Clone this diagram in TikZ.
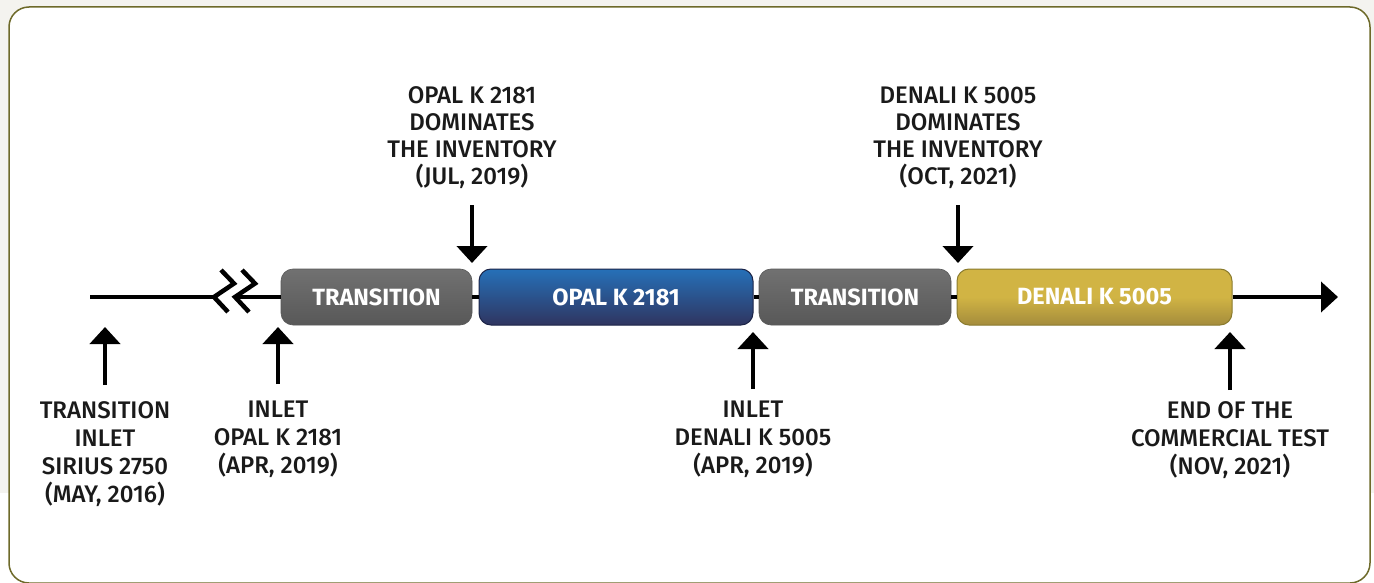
\documentclass[tikz,border=0pt]{standalone}
\usepackage{fontspec}
\setmainfont{Fira Sans}[UprightFont={Fira Sans Medium}, BoldFont={Fira Sans Bold}]
\usetikzlibrary{arrows.meta}
\definecolor{bgc}{HTML}{F4F3EF}
\definecolor{framec}{HTML}{6E6A2A}
\definecolor{txtc}{HTML}{1A1A1A}
\definecolor{grayTop}{HTML}{717171}
\definecolor{grayBot}{HTML}{585858}
\definecolor{blueTop}{HTML}{2670B8}
\definecolor{blueBot}{HTML}{2F3560}
\definecolor{blueLine}{HTML}{1C2447}
\definecolor{goldTop}{HTML}{D1B444}
\definecolor{goldBot}{HTML}{A48C3C}
\definecolor{goldLine}{HTML}{8A7B2E}
\begin{document}
\begin{tikzpicture}[x=1pt,y=-1pt,
  phase/.style={rounded corners=12pt, minimum height=56pt, inner sep=0pt,
    text=white, font=\bfseries\fontsize{23.5}{28}\selectfont},
  graybox/.style={phase, top color=grayTop, bottom color=grayBot, draw=grayBot, line width=0.6pt},
  bluebox/.style={phase, top color=blueTop, bottom color=blueBot, draw=blueLine, line width=1pt},
  goldbox/.style={phase, top color=goldTop, bottom color=goldBot, middle color=goldTop, draw=goldLine, line width=1pt},
  lab/.style={align=center, inner sep=0pt, text=txtc, font=\fontsize{24}{28}\selectfont},
  labtop/.style={lab, font=\fontsize{24}{27}\selectfont},
  tl/.style={line width=4pt, black},
  arr/.style={line width=4.5pt, black, -{Triangle[length=17pt,width=30pt]}},
  brk/.style={line width=4.5pt, black, miter limit=10}
]
\useasboundingbox (0,0) rectangle (1374,583);
\fill[bgc] (0,0) rectangle (1374,493);
\fill[white] (0,493) rectangle (1374,583);
\draw[framec, line width=1.5pt, fill=white, rounded corners=20pt] (9,7) rectangle (1370,583);

% boxes
\node[graybox, minimum width=191pt] (t1) at (376.5,297) {TRANSITION};
\node[bluebox, minimum width=274pt] (opal) at (616,297) {OPAL K 2181};
\node[graybox, minimum width=192pt] (t2) at (855,297) {TRANSITION};
\node[goldbox, minimum width=275pt] (den) at (1094.5,297) {DENALI K 5005};

% timeline
\coordinate (start) at (90,297);
\coordinate (b1) at (214,297);
\coordinate (b2) at (235,297);
\coordinate (endp) at (1338,297);
\draw[tl] (start) -- (b1);
\draw[brk] (221,270) -- (234,283.5) -- (b1) -- (228,312);
\draw[brk] (242,270) -- (255,283.5) -- (b2) -- (249,312);
\draw[tl] (b2) -- (t1.west);
\draw[tl] (t1.east) -- (opal.west);
\draw[tl] (opal.east) -- (t2.west);
\draw[tl] (t2.east) -- (den.west);
\draw[tl, -{Triangle[length=17pt,width=30pt]}] (den.east) -- (endp);

% up arrows
\coordinate (u1a) at (105,385); \coordinate (u1b) at (105,327);
\coordinate (u2a) at (278,384); \coordinate (u2b) at (278,327);
\coordinate (u3a) at (753,389); \coordinate (u3b) at (753,332);
\coordinate (u4a) at (1230,390); \coordinate (u4b) at (1230,332);
\draw[arr] (u1a) -- (u1b);
\draw[arr] (u2a) -- (u2b);
\draw[arr] (u3a) -- (u3b);
\draw[arr] (u4a) -- (u4b);

% down arrows
\coordinate (d1a) at (472,205); \coordinate (d1b) at (472,263);
\coordinate (d2a) at (958,205); \coordinate (d2b) at (958,263);
\draw[arr] (d1a) -- (d1b);
\draw[arr] (d2a) -- (d2b);

% labels
\node[lab, anchor=north] (l1) at (105,401) {TRANSITION\\INLET\\SIRIUS 2750\\(MAY, 2016)};
\node[lab, anchor=north] (l2) at (278,401) {INLET\\OPAL K 2181\\(APR, 2019)};
\node[lab, anchor=north] (l3) at (753,401) {INLET\\DENALI K 5005\\(APR, 2019)};
\node[lab, anchor=north] (l4) at (1230,401) {END OF THE\\COMMERCIAL TEST\\(NOV, 2021)};
\node[labtop, anchor=south] (l5) at (472,189) {OPAL K 2181\\DOMINATES\\THE INVENTORY\\(JUL, 2019)};
\node[labtop, anchor=south] (l6) at (958,189) {DENALI K 5005\\DOMINATES\\THE INVENTORY\\(OCT, 2021)};
\end{tikzpicture}
\end{document}
